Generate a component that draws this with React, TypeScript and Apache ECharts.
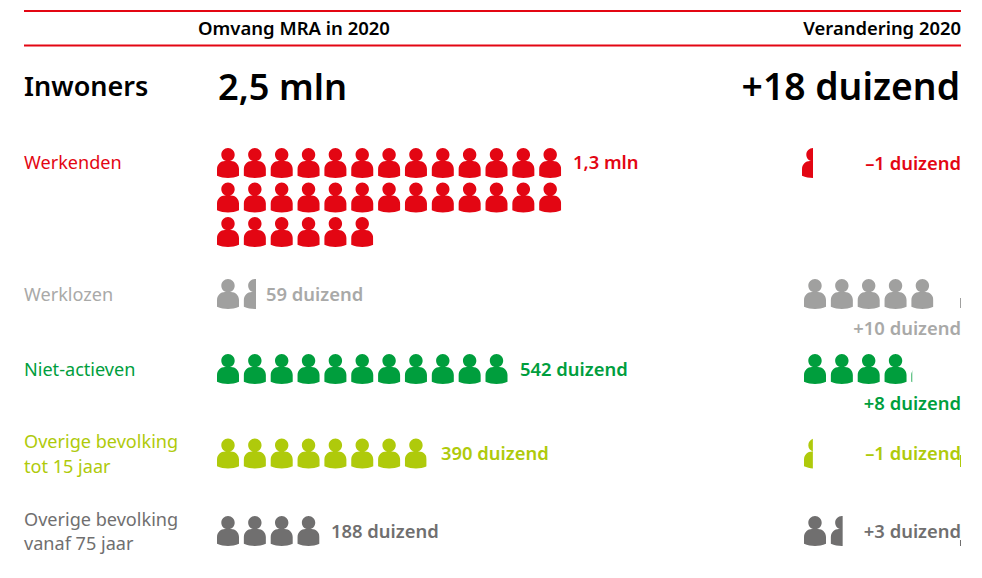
import React, { useEffect, useRef } from "react";
import * as echarts from "echarts";

const headerLeft = "Omvang MRA in 2020";
const headerRight = "Verandering 2020";
const totalLabel = "Inwoners";
const totalValue = "2,5 mln";
const totalChange = "+18 duizend";

const categories = [
  ["Werkenden"],
  ["Werklozen"],
  ["Niet-actieven"],
  ["Overige bevolking", "tot 15 jaar"],
  ["Overige bevolking", "vanaf 75 jaar"],
];
const valueLabels = ["1,3 mln", "59 duizend", "542 duizend", "390 duizend", "188 duizend"];
const changeLabels = ["\u20131 duizend", "+10 duizend", "+8 duizend", "\u20131 duizend", "+3 duizend"];
// icons shown per row (one row list per category)
const volumeIcons = [[13, 13, 6], [1.45], [10.84], [7.8], [4]];
const changeIcons = [0.41, 5, 4.03, 0.33, 1.44];

// layout
const COLORS = ["#e30613", "#a0a09f", "#009e3d", "#afca0b", "#706f6f"];
const LABEL_COLORS = ["#e30613", "#a9a9a8", "#009e3d", "#afca0b", "#706f6f"];
const ROW_TOPS = [[148, 182.5, 217], [279], [354], [438.5], [516]];
const CHANGE_SHIFT = [-2, 0, 0, 0, 0];
const SLIVERS: [number, number, number][] = [[1, 298, 10], [3, 455, 12], [4, 540, 6]];
const PITCH = 26.85;
const LEFT_X = 217;
const RIGHT_X = 804;
const ICON_W = 22;
const ICON_H = 30;
const FONT = "'Noto Sans', sans-serif";

const personPath =
  "M11 0C14.7 0 17.7 3 17.7 6.7C17.7 10.4 14.7 13.2 11 13.2C7.3 13.2 4.3 10.4 4.3 6.7C4.3 3 7.3 0 11 0Z" +
  "M0 27.6L0 21C0 16.2 3.6 13 8 13L14 13C18.4 13 22 16.2 22 21L22 27.6C15 30.6 7 30.6 0 27.6Z";

function iconsItem(api: any, count: number, top: number, color: string, shift: number) {
  const x0 = api.coord([0, top])[0] + shift;
  const y0 = api.coord([0, top])[1];
  const px = api.size([1, 0])[0];
  const n = Math.ceil(count);
  const fullIcons = Math.floor(count);
  const frac = count - fullIcons;
  const clipW = frac > 0 ? fullIcons * px + frac * px : (fullIcons - 1) * px + ICON_W;
  const children: any[] = [];
  for (let i = 0; i < n; i++) {
    children.push({
      type: "path",
      shape: {
        pathData: personPath,
        x: x0 + i * px,
        y: y0,
        width: ICON_W,
        height: ICON_H,
        layout: "cover",
      },
      style: { fill: color },
    });
  }
  return {
    type: "group",
    children,
    clipPath: { type: "rect", shape: { x: x0, y: y0 - 1, width: clipW, height: ICON_H + 2 } },
  };
}

const volumeData: any[] = [];
volumeIcons.forEach((rows, cat) =>
  rows.forEach((count, r) => volumeData.push({ value: [count, ROW_TOPS[cat][r], cat] }))
);
const changeData = changeIcons.map((count, cat) => ({ value: [count, ROW_TOPS[cat][0], cat] }));

function text(t: string, x: number, y: number, size: number, fill: string, weight: any = "normal", align = "left") {
  return {
    type: "text",
    x,
    y,
    silent: true,
    style: {
      text: t,
      x: 0,
      y: 0,
      fill,
      font: `${weight} ${size}px ${FONT}`,
      textAlign: align,
      textVerticalAlign: "middle",
    },
  };
}

export default function App() {
  const ref = useRef<HTMLDivElement>(null);
  useEffect(() => {
    document.body.style.margin = "0";
    const chart = echarts.init(ref.current!, undefined, { renderer: "svg" });
    const labelYs = [[161.5], [293.5], [368.5], [440.5, 465.5], [518.5, 542.5]];
    const valueSpots: [number, number][] = [[573, 161.5], [266, 293.5], [520, 368.5], [441, 452.5], [331, 530.5]];
    const changeYs = [162.5, 327.5, 402.5, 452.5, 530.5];
    const graphics: any[] = [
      { type: "rect", silent: true, shape: { x: 24, y: 10, width: 937, height: 2 }, style: { fill: "#e30613" } },
      { type: "rect", silent: true, shape: { x: 24, y: 44.5, width: 937, height: 2 }, style: { fill: "#e30613" } },
      text(headerLeft, 198, 27.5, 18.5, "#000", 600),
      text(headerRight, 961, 27.5, 18.4, "#000", 600, "right"),
      text(totalLabel, 24, 85.5, 27, "#000", 600),
      text(totalValue, 218, 85.5, 36.2, "#000", 600),
      text(totalChange, 960, 85.5, 37.3, "#000", 600, "right"),
    ];
    categories.forEach((lines, i) => {
      lines.forEach((line, j) => graphics.push(text(line, 24, labelYs[i][j], 18.1, LABEL_COLORS[i])));
      graphics.push(text(valueLabels[i], valueSpots[i][0], valueSpots[i][1], 18.4, LABEL_COLORS[i], 600));
      graphics.push(text(changeLabels[i], 961, changeYs[i], 18.4, LABEL_COLORS[i], 600, "right"));
    });

    chart.setOption({
      animation: false,
      graphic: { elements: graphics },
      grid: [
        { left: LEFT_X, top: 0, width: PITCH * 28, height: 578 },
        { left: RIGHT_X, top: 0, width: PITCH * 6, height: 578 },
      ],
      xAxis: [
        { type: "value", gridIndex: 0, min: 0, max: 28, show: false },
        { type: "value", gridIndex: 1, min: 0, max: 6, show: false },
      ],
      yAxis: [
        { type: "value", gridIndex: 0, min: 0, max: 578, inverse: true, show: false },
        { type: "value", gridIndex: 1, min: 0, max: 578, inverse: true, show: false },
      ],
      series: [
        {
          type: "custom",
          xAxisIndex: 0,
          yAxisIndex: 0,
          clip: false,
          silent: true,
          data: volumeData,
          renderItem: (_: any, api: any) => {
            const cat = api.value(2);
            return iconsItem(api, api.value(0), api.value(1), COLORS[cat], 0);
          },
        },
        {
          type: "custom",
          xAxisIndex: 1,
          yAxisIndex: 1,
          clip: false,
          silent: true,
          data: changeData,
          renderItem: (_: any, api: any) => {
            const cat = api.value(2);
            return iconsItem(api, api.value(0), api.value(1), COLORS[cat], CHANGE_SHIFT[cat]);
          },
        },
        {
          type: "custom",
          xAxisIndex: 1,
          yAxisIndex: 1,
          clip: false,
          silent: true,
          data: SLIVERS,
          renderItem: (_: any, api: any) => {
            const p = api.coord([5.81, api.value(1)]);
            return {
              type: "rect",
              shape: { x: p[0], y: p[1], width: 1, height: api.value(2) },
              style: { fill: COLORS[api.value(0)] },
            };
          },
        },
      ],
    });
    return () => chart.dispose();
  }, []);
  return <div ref={ref} style={{ width: 982, height: 578 }} />;
}
